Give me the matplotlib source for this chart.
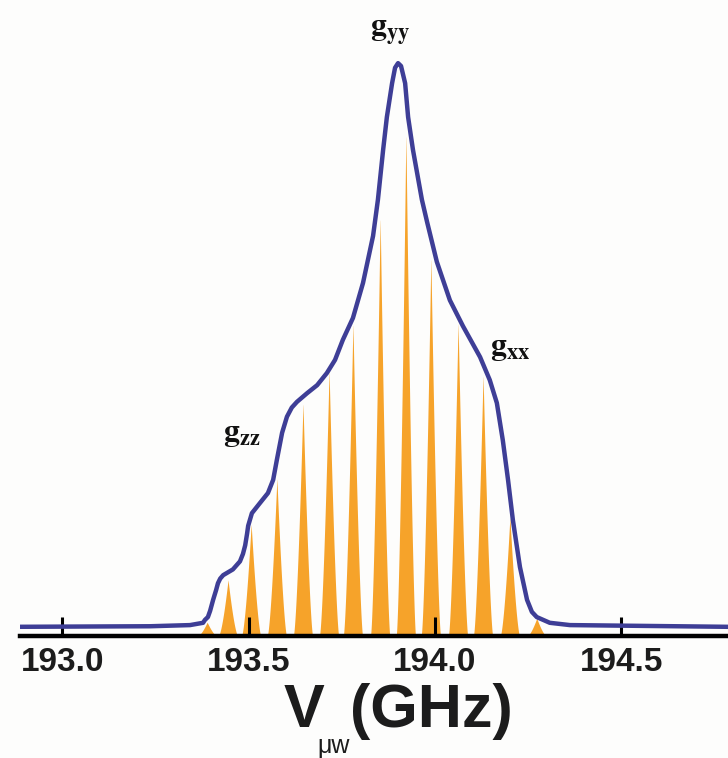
import numpy as np
import matplotlib
matplotlib.use('Agg')
import matplotlib.pyplot as plt

# simulated envelope (blue), frequency in GHz, intensity in % of max
env_freq = [192.874, 193.236, 193.343, 193.378, 193.383, 193.391, 193.397, 193.405,
            193.413, 193.418, 193.424, 193.432, 193.458, 193.477, 193.485, 193.491,
            193.496, 193.499, 193.509, 193.531, 193.552, 193.566, 193.576, 193.590,
            193.603, 193.616, 193.630, 193.657, 193.684, 193.710, 193.732, 193.753,
            193.780, 193.807, 193.834, 193.847, 193.861, 193.871, 193.885, 193.893,
            193.901, 193.909, 193.920, 193.928, 193.941, 193.965, 193.979, 194.005,
            194.040, 194.075, 194.121, 194.147, 194.166, 194.182, 194.196, 194.209,
            194.228, 194.247, 194.260, 194.273, 194.308, 194.362, 194.786]
env_int = [1.6, 1.7, 1.9, 2.3, 2.8, 3.3, 4.4, 6.3,
           8.0, 9.2, 10.0, 10.6, 11.6, 13.0, 14.3, 15.8,
           17.8, 19.2, 21.4, 23.2, 24.9, 27.2, 30.7, 35.4,
           38.2, 39.8, 40.8, 42.3, 43.7, 45.8, 48.1, 51.6,
           55.4, 61.5, 69.7, 76.0, 84.7, 90.4, 96.3, 99.0,
           99.8, 99.3, 96.3, 90.4, 84.7, 76.0, 72.1, 65.2,
           58.5, 54.0, 48.6, 44.6, 40.6, 34.1, 27.2, 20.2,
           12.0, 6.3, 4.2, 3.3, 2.3, 1.9, 1.6]

# hyperfine lines (orange)
line_freq = [193.389, 193.445, 193.507, 193.576, 193.646, 193.716, 193.780,
             193.853, 193.922, 193.989, 194.062, 194.129, 194.201, 194.273]
line_int = [2.4, 9.8, 19.5, 27.5, 40.6, 46.3, 54.5,
            73.0, 87.6, 66.0, 54.7, 45.5, 20.7, 3.1]
line_hw = 0.026

xticks = [193.0, 193.5, 194.0, 194.5]
xticklabels = ['193.0', '193.5', '194.0', '194.5']

orange = '#F6A32A'
blue = '#3E3E96'
ink = '#1c1c1c'

plt.rcParams['mathtext.fontset'] = 'stix'

fig = plt.figure(figsize=(7.28, 7.58), dpi=100, facecolor='#fdfdfc')
ax = fig.add_axes([20 / 728, 122 / 758, 708 / 728, 636 / 758])
ax.set_facecolor('none')

for f0, h in zip(line_freq, line_int):
    xs = np.linspace(f0 - line_hw, f0 + line_hw, 200)
    ax.fill_between(xs, 0, h * (1 - np.abs(xs - f0) / line_hw) ** 1.5, color=orange, lw=0, zorder=1)

ax.plot(env_freq, env_int, color=blue, lw=3.2, solid_joinstyle='round', solid_capstyle='round', zorder=2)

ax.set_xlim(192.887, 194.786)
ax.set_ylim(0, 110.8)
for s in ['top', 'left', 'right']:
    ax.spines[s].set_visible(False)
ax.spines['bottom'].set_linewidth(3.2)
ax.spines['bottom'].set_zorder(3)
ax.set_yticks([])
ax.set_xticks(xticks)
ax.set_xticklabels(xticklabels, family='Liberation Sans', fontweight='bold', fontsize=24, color=ink)
ax.tick_params(axis='x', direction='in', length=14, width=2.2, pad=8, color='black')

gkw = dict(fontsize=23, ha='center', va='center', color='#111111')
ax.text(193.879, 105.3, r'$\mathbf{g}_{\mathbf{yy}}$', **gkw)
ax.text(193.483, 35.2, r'$\mathbf{g}_{\mathbf{zz}}$', **gkw)
ax.text(194.201, 50.3, r'$\mathbf{g}_{\mathbf{xx}}$', **gkw)

lab = dict(family='Liberation Sans', color=ink, va='baseline', ha='center')
fig.text(304 / 728, 1 - 727 / 758, 'V', fontsize=44, fontweight='bold', **lab)
fig.text(334 / 728, 1 - 753 / 758, 'μw', fontsize=18, **lab)
fig.text(431 / 728, 1 - 727 / 758, '(GHz)', fontsize=44, fontweight='bold', **lab)

fig.savefig('out.png', dpi=100, facecolor=fig.get_facecolor())
